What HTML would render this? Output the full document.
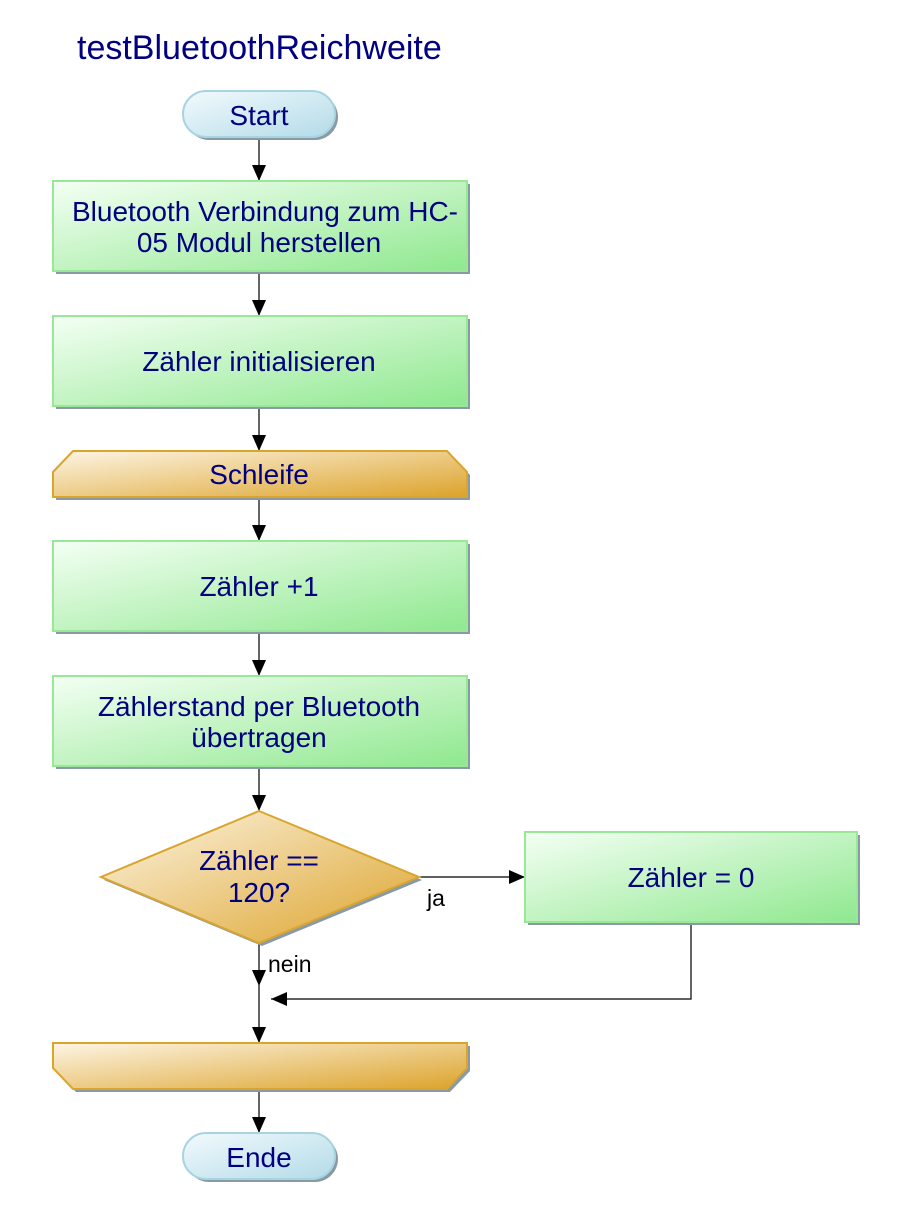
<!DOCTYPE html>
<html><head><meta charset="utf-8"><style>
html,body{margin:0;padding:0;background:#fff;}
svg{display:block;}
text{font-family:"Liberation Sans",Arial,sans-serif;fill:#000080;}
</style></head><body>
<svg width="907" height="1222" viewBox="0 0 907 1222" xmlns="http://www.w3.org/2000/svg">
<defs>
<linearGradient id="g" x1="0" y1="0" x2="1" y2="1"><stop offset="0" stop-color="#f4fff4"/><stop offset="1" stop-color="#8fe88f"/></linearGradient>
<linearGradient id="o" x1="0" y1="0" x2="1" y2="1"><stop offset="0" stop-color="#fdf5e4"/><stop offset="1" stop-color="#dca32a"/></linearGradient>
<linearGradient id="b" x1="0" y1="0" x2="1" y2="1"><stop offset="0" stop-color="#f2fafd"/><stop offset="1" stop-color="#b3dbe8"/></linearGradient>
<marker id="a" markerWidth="16" markerHeight="14" refX="16" refY="7" orient="auto" markerUnits="userSpaceOnUse"><path d="M0,0 L16,7 L0,14 Z" fill="#000"/></marker>
</defs>
<text x="77" y="59" font-size="34">testBluetoothReichweite</text>

<g stroke="#000" stroke-width="1.2" fill="none">
<line x1="259" y1="137" x2="259" y2="181" marker-end="url(#a)"/>
<line x1="259" y1="271" x2="259" y2="316" marker-end="url(#a)"/>
<line x1="259" y1="406" x2="259" y2="451" marker-end="url(#a)"/>
<line x1="259" y1="497" x2="259" y2="541" marker-end="url(#a)"/>
<line x1="259" y1="631" x2="259" y2="676" marker-end="url(#a)"/>
<line x1="259" y1="766" x2="259" y2="811" marker-end="url(#a)"/>
<line x1="419" y1="877" x2="525" y2="877" marker-end="url(#a)"/>
<line x1="259" y1="943" x2="259" y2="986" marker-end="url(#a)"/>
<polyline points="691,922 691,999 271,999" marker-end="url(#a)"/>
<line x1="259" y1="986" x2="259" y2="1043" marker-end="url(#a)"/>
<line x1="259" y1="1089" x2="259" y2="1133" marker-end="url(#a)"/>
</g>

<rect x="186" y="94" width="152" height="46" rx="23" fill="#8a9aa5"/>
<rect x="183" y="91" width="152" height="46" rx="23" fill="url(#b)" stroke="#a8d4e2" stroke-width="2"/>
<text x="259" y="125" font-size="28" text-anchor="middle">Start</text>

<g>
<rect x="56" y="184" width="414" height="90" fill="#8a9aa5"/>
<rect x="53" y="181" width="414" height="90" fill="url(#g)" stroke="#98e898" stroke-width="2"/>
<text x="265" y="221" font-size="28" text-anchor="middle">Bluetooth Verbindung zum HC-</text>
<text x="259" y="252" font-size="28" text-anchor="middle">05 Modul herstellen</text>

<rect x="56" y="319" width="414" height="90" fill="#8a9aa5"/>
<rect x="53" y="316" width="414" height="90" fill="url(#g)" stroke="#98e898" stroke-width="2"/>
<text x="259" y="371" font-size="28" text-anchor="middle">Zähler initialisieren</text>

<polygon points="56,475 76,454 450,454 470,475 470,500 56,500" fill="#8a9aa5"/>
<polygon points="53,472 73,451 447,451 467,472 467,497 53,497" fill="url(#o)" stroke="#daa52d" stroke-width="2"/>
<text x="259" y="484" font-size="28" text-anchor="middle">Schleife</text>

<rect x="56" y="544" width="414" height="90" fill="#8a9aa5"/>
<rect x="53" y="541" width="414" height="90" fill="url(#g)" stroke="#98e898" stroke-width="2"/>
<text x="259" y="596" font-size="28" text-anchor="middle">Zähler +1</text>

<rect x="56" y="679" width="414" height="90" fill="#8a9aa5"/>
<rect x="53" y="676" width="414" height="90" fill="url(#g)" stroke="#98e898" stroke-width="2"/>
<text x="259" y="716" font-size="28" text-anchor="middle">Zählerstand per Bluetooth</text>
<text x="259" y="747" font-size="28" text-anchor="middle">übertragen</text>

<polygon points="262,814 422,880 262,946 104,880" fill="#8a9aa5"/>
<polygon points="259,811 419,877 259,943 101,877" fill="url(#o)" stroke="#daa52d" stroke-width="2"/>
<text x="259" y="870" font-size="28" text-anchor="middle">Zähler ==</text>
<text x="259" y="902" font-size="28" text-anchor="middle">120?</text>

<rect x="528" y="835" width="332" height="90" fill="#8a9aa5"/>
<rect x="525" y="832" width="332" height="90" fill="url(#g)" stroke="#98e898" stroke-width="2"/>
<text x="691" y="887" font-size="28" text-anchor="middle">Zähler = 0</text>

<polygon points="56,1046 470,1046 470,1071 450,1092 76,1092 56,1071" fill="#8a9aa5"/>
<polygon points="53,1043 467,1043 467,1068 447,1089 73,1089 53,1068" fill="url(#o)" stroke="#daa52d" stroke-width="2"/>
</g>

<text x="427" y="906" font-size="23" style="fill:#000">ja</text>
<text x="268" y="972" font-size="23" style="fill:#000">nein</text>

<rect x="186" y="1136" width="152" height="46" rx="23" fill="#8a9aa5"/>
<rect x="183" y="1133" width="152" height="46" rx="23" fill="url(#b)" stroke="#a8d4e2" stroke-width="2"/>
<text x="259" y="1167" font-size="28" text-anchor="middle">Ende</text>
</svg>
</body></html>
